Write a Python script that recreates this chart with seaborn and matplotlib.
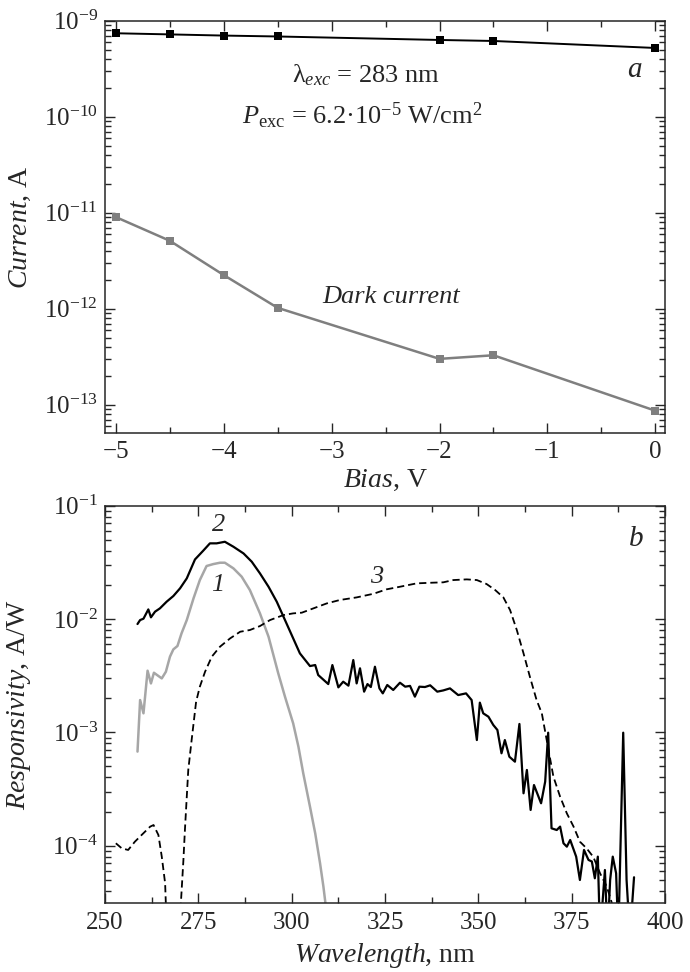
import numpy as np
import pandas as pd
import seaborn as sns
import matplotlib
matplotlib.use("Agg")
import matplotlib.pyplot as plt
from matplotlib.ticker import LogLocator, NullFormatter, MultipleLocator

# --- panel a : current vs bias ---
bias = [-5.0, -4.5, -4.0, -3.5, -2.0, -1.5, 0.0]
photo_current = [7.4e-10, 7.2e-10, 7.0e-10, 6.85e-10, 6.3e-10, 6.15e-10, 5.2e-10]
dark_current = [9.0e-12, 5.1e-12, 2.24e-12, 1.02e-12, 3.0e-13, 3.27e-13, 8.65e-14]

# --- panel b : responsivity spectra (log10 of A/W) ---
wl_1 = [258.7, 259.4, 260.3, 261.4, 262.3, 263.1, 265.2, 266.3, 267.4, 268.3,
        269.4, 270.5, 271.9, 273.7, 275.4, 277.2, 279.0, 280.8, 282.1, 284.4,
        286.6, 288.8, 291.5, 293.8, 296.4, 298.2, 300.4, 301.8, 303.1, 304.9,
        306.3, 307.6, 308.5, 309.1, 309.6]
log_r_1 = [-3.17, -2.715, -2.832, -2.456, -2.568, -2.474, -2.524, -2.465, -2.332, -2.268,
           -2.238, -2.126, -2.009, -1.818, -1.656, -1.532, -1.515, -1.503, -1.503, -1.553,
           -1.626, -1.744, -1.95, -2.156, -2.479, -2.685, -2.921, -3.126, -3.362, -3.656,
           -3.891, -4.156, -4.362, -4.524, -4.8]

wl_2 = [258.7, 259.4, 260.3, 261.6, 262.3, 263.4, 264.7, 266.5, 268.3, 270.1,
        271.9, 274.1, 276.3, 278.1, 279.9, 282.1, 284.4, 287.1, 289.3, 291.5,
        293.8, 296.0, 297.8, 300.0, 302.2, 304.9, 306.3, 307.1, 309.8, 310.9,
        312.5, 313.8, 315.2, 316.5, 317.4, 318.3, 319.4, 320.3, 321.2, 322.3,
        323.5, 324.4, 325.6, 327.2, 329.0, 330.4, 331.7, 333.0, 334.2, 335.7,
        337.1, 339.0, 340.6, 342.4, 344.6, 346.7, 348.2, 349.6, 350.4, 351.3,
        352.7, 354.0, 355.1, 356.2, 357.1, 358.3, 359.8, 361.0, 362.1, 363.0,
        364.0, 364.9, 366.8, 367.9, 368.7, 369.6, 371.0, 371.9, 372.8, 373.7,
        374.6, 376.2, 377.2, 378.3, 379.5, 380.4, 381.2, 382.0, 382.6, 383.9,
        384.6, 385.3, 386.0, 386.9, 387.5, 388.8, 389.7, 390.6, 391.7]
log_r_2 = [-2.044, -2.009, -1.997, -1.915, -1.985, -1.935, -1.906, -1.847, -1.797, -1.729,
           -1.641, -1.474, -1.397, -1.332, -1.332, -1.318, -1.362, -1.421, -1.494, -1.597,
           -1.715, -1.847, -1.979, -2.141, -2.303, -2.415, -2.406, -2.494, -2.574, -2.406,
           -2.603, -2.553, -2.588, -2.362, -2.568, -2.435, -2.641, -2.574, -2.6, -2.421,
           -2.612, -2.656, -2.582, -2.626, -2.562, -2.597, -2.59, -2.685, -2.597, -2.6,
           -2.585, -2.641, -2.63, -2.612, -2.671, -2.656, -2.715, -3.068, -2.738, -2.832,
           -2.862, -2.935, -2.979, -3.185, -3.068, -3.215, -3.259, -2.926, -3.538, -3.332,
           -3.685, -3.465, -3.626, -3.435, -3.003, -3.847, -3.862, -3.832, -3.979, -4.009,
           -3.95, -4.097, -4.303, -4.038, -4.126, -4.14, -4.288, -4.097, -4.8, -4.215,
           -4.8, -4.303, -4.097, -4.244, -4.8, -3.003, -4.303, -4.8, -4.279]

wl_3 = [252.9, 254.5, 256.2, 258.0, 259.8, 262.1, 263.0, 264.3, 265.2, 266.1,
        266.6, 269.8, 270.5, 271.0, 271.4, 272.3, 273.2, 274.4, 275.4, 276.8,
        278.6, 280.8, 283.5, 286.2, 288.8, 291.5, 294.2, 297.8, 300.4, 302.7,
        305.8, 309.4, 312.9, 317.4, 321.9, 325.4, 329.0, 333.5, 337.9, 340.6,
        343.3, 346.9, 349.6, 352.2, 354.5, 356.7, 358.5, 360.3, 362.1, 363.8,
        365.6, 367.0, 370.1, 371.9, 373.7, 375.5, 377.2, 379.0, 380.8, 382.6,
        384.4, 385.7, 386.3]
log_r_3 = [-3.979, -4.024, -4.038, -3.965, -3.906, -3.832, -3.818, -3.906, -4.097, -4.332,
           -4.8, -4.8, -4.406, -4.126, -3.862, -3.332, -3.068, -2.729, -2.597, -2.465,
           -2.332, -2.244, -2.171, -2.112, -2.097, -2.062, -2.009, -1.965, -1.95, -1.944,
           -1.906, -1.862, -1.832, -1.809, -1.777, -1.738, -1.715, -1.685, -1.679, -1.676,
           -1.656, -1.65, -1.656, -1.691, -1.744, -1.809, -1.921, -2.097, -2.303, -2.509,
           -2.715, -2.832, -3.391, -3.568, -3.715, -3.832, -3.965, -4.024, -4.1, -4.244,
           -4.362, -4.5, -4.8]

sns.set_style("ticks")
plt.rcParams["font.family"] = ["Liberation Serif", "DejaVu Serif"]
plt.rcParams["mathtext.fontset"] = "custom"
plt.rcParams["mathtext.rm"] = "Liberation Serif"
plt.rcParams["mathtext.it"] = "Liberation Serif:italic"
plt.rcParams["mathtext.bf"] = "Liberation Serif:bold"
plt.rcParams["axes.linewidth"] = 1.1

TICK_FS = 18
LABEL_FS = 20
NOTE_FS = 19

fig = plt.figure(figsize=(6.9, 9.72), dpi=100)
ax1 = fig.add_axes([0.1522, 0.5548, 0.8116, 0.4239])
ax2 = fig.add_axes([0.1522, 0.0707, 0.8116, 0.4090])

# panel a
df_a = pd.DataFrame({"bias": bias, "photo": photo_current, "dark": dark_current})
sns.lineplot(data=df_a, x="bias", y="photo", ax=ax1, color="black", lw=1.4,
             marker="s", markersize=6, markeredgewidth=0, estimator=None)
sns.lineplot(data=df_a, x="bias", y="dark", ax=ax1, color="#7f7f7f", lw=1.8,
             marker="s", markersize=6, markeredgewidth=0, estimator=None)
ax1.set_yscale("log")
ax1.set_xlim(-5.1, 0.09)
ax1.set_ylim(5.1e-14, 1e-9)
ax1.xaxis.set_major_locator(MultipleLocator(1))
ax1.xaxis.set_minor_locator(MultipleLocator(0.5))
ax1.set_xlabel(r"$\mathit{Bias}$, V", fontsize=LABEL_FS)
ax1.set_ylabel(r"$\mathit{Current}$, A", fontsize=LABEL_FS)
ax1.xaxis.set_label_coords(0.5, -0.085)
ax1.yaxis.set_label_coords(-0.128, 0.5)
ax1.text(-2.68, 10**-9.57, r"λ$_{\mathit{exc}}$ = 283 nm", ha="center", va="center", fontsize=NOTE_FS)
ax1.text(-2.72, 10**-9.99, r"$P_{\mathrm{exc}}$ = 6.2·10$^{-5}$ W/cm$^2$",
         ha="center", va="center", fontsize=NOTE_FS)
ax1.text(-2.45, 10**-11.88, "Dark current", style="italic", ha="center", va="center", fontsize=NOTE_FS)
ax1.text(-0.19, 10**-9.51, "a", style="italic", ha="center", va="center", fontsize=21)

# panel b
df1 = pd.DataFrame({"wl": wl_1, "r": np.power(10.0, log_r_1)})
df2 = pd.DataFrame({"wl": wl_2, "r": np.power(10.0, log_r_2)})
df3 = pd.DataFrame({"wl": wl_3, "r": np.power(10.0, log_r_3)})
sns.lineplot(data=df1, x="wl", y="r", ax=ax2, color="#a6a6a6", lw=1.8, sort=False, estimator=None)
sns.lineplot(data=df2, x="wl", y="r", ax=ax2, color="black", lw=1.6, sort=False, estimator=None)
sns.lineplot(data=df3, x="wl", y="r", ax=ax2, color="black", lw=1.3, sort=False, estimator=None)
ax2.lines[-1].set_dashes([4, 2.2])
ax2.set_yscale("log")
ax2.set_xlim(250, 400)
ax2.set_ylim(3.1e-5, 0.1)
ax2.xaxis.set_major_locator(MultipleLocator(25))
ax2.xaxis.set_minor_locator(MultipleLocator(12.5))
ax2.set_xlabel(r"$\mathit{Wavelength}$, nm", fontsize=LABEL_FS)
ax2.set_ylabel(r"$\mathit{Responsivity}$, A/W", fontsize=LABEL_FS)
ax2.xaxis.set_label_coords(0.5, -0.094)
ax2.yaxis.set_label_coords(-0.128, 0.5)
ax2.text(280.3, 10**-1.17, "2", style="italic", ha="center", va="center", fontsize=NOTE_FS)
ax2.text(280.3, 10**-1.70, "1", style="italic", ha="center", va="center", fontsize=NOTE_FS)
ax2.text(322.8, 10**-1.627, "3", style="italic", ha="center", va="center", fontsize=NOTE_FS)
ax2.text(392.4, 10**-1.29, "b", style="italic", ha="center", va="center", fontsize=21)

for ax in (ax1, ax2):
    ax.yaxis.set_major_locator(LogLocator(base=10, numticks=20))
    ax.yaxis.set_minor_locator(LogLocator(base=10, subs=np.arange(2, 10), numticks=20))
    ax.yaxis.set_minor_formatter(NullFormatter())
    ax.tick_params(which="both", direction="in", top=True, right=True, labelsize=TICK_FS, width=1.0)
    ax.tick_params(which="major", length=7, pad=6)
    ax.tick_params(which="minor", length=4)
    ax.tick_params(axis="y", which="major", pad=5)
    for s in ax.spines.values():
        s.set_visible(True)
        s.set_linewidth(1.1)
    ax.grid(False)

fig.savefig("out.png", dpi=100)
